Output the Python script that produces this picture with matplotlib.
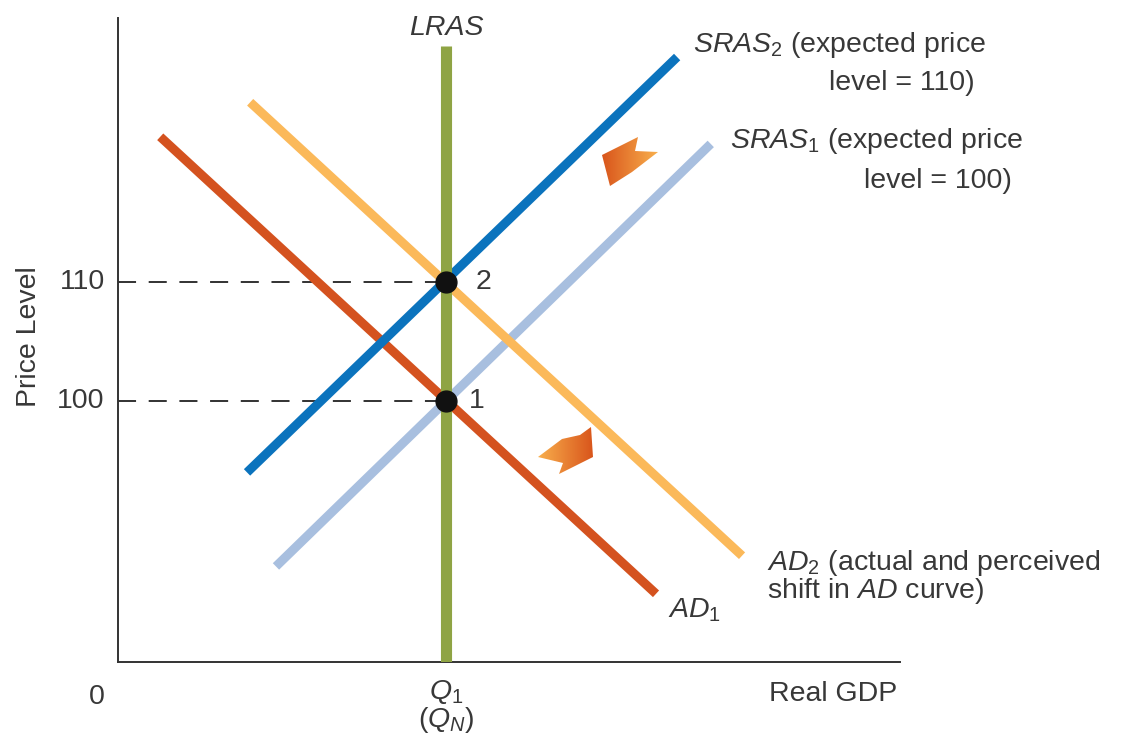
import numpy as np
import matplotlib
matplotlib.use("Agg")
import matplotlib.pyplot as plt
from matplotlib.patches import Polygon
from matplotlib.colors import LinearSegmentedColormap

plt.rcParams['font.family'] = ['Liberation Sans', 'DejaVu Sans']
plt.rcParams['mathtext.fontset'] = 'custom'
plt.rcParams['mathtext.rm'] = 'Liberation Sans'
plt.rcParams['mathtext.it'] = 'Liberation Sans:italic'

# ---- data (GDP units 0-100, price level units) ----
q1 = 42.0
price_levels = [100, 110]
price_tick_labels = ["100", "110"]
lras_top = 129.8

sras2_x = [16.5, 71.5]
sras2_y = [94.0, 128.9]
sras1_x = [20.2, 75.8]
sras1_y = [86.1, 121.6]
ad1_x = [5.4, 68.8]
ad1_y = [122.2, 83.8]
ad2_x = [16.9, 79.8]
ad2_y = [125.1, 87.0]

W, H = 1125, 737
fig = plt.figure(figsize=(W / 100, H / 100), dpi=100)
ax = fig.add_axes([118 / W, 1 - 662 / H, 782 / W, 644 / H])
ax.set_xlim(0, 100)
ax.set_ylim(78.07, 132.18)
for s in ['top', 'right']:
    ax.spines[s].set_visible(False)
for s in ['left', 'bottom']:
    ax.spines[s].set_color('#333333')
    ax.spines[s].set_linewidth(1.4)
ax.set_xticks([])
ax.set_yticks([])

c_lras = '#8fa444'
c_sras2 = '#0b73bd'
c_sras1 = '#a8bfdf'
c_ad1 = '#d4521f'
c_ad2 = '#fbb95a'

lw = 6.5
ax.plot(sras1_x, sras1_y, color=c_sras1, lw=lw, solid_capstyle='butt', zorder=2)
ax.plot(ad2_x, ad2_y, color=c_ad2, lw=lw, solid_capstyle='butt', zorder=2)
ax.plot(ad1_x, ad1_y, color=c_ad1, lw=lw, solid_capstyle='butt', zorder=2)
ax.plot(sras2_x, sras2_y, color=c_sras2, lw=lw, solid_capstyle='butt', zorder=2)
ax.plot([q1, q1], [78.07, lras_top], color=c_lras, lw=8, solid_capstyle='butt', zorder=3)

for p in price_levels:
    ax.plot([0, q1], [p, p], color='#222222', lw=1.3, dashes=(10, 7), zorder=1)
ax.plot([q1, q1], price_levels, 'o', color='#111111', ms=15, zorder=5)

fs = 20.5
tc = '#383838'

def F(px, py):
    return px / W, 1 - py / H

fig.text(*F(446, 35), 'LRAS', fontsize=fs, style='italic', ha='center', va='baseline', color=tc)
fig.text(*F(693, 52), r'$\mathit{SRAS}_2$ (expected price', fontsize=fs, ha='left', va='baseline', color=tc)
fig.text(*F(975, 90), 'level = 110)', fontsize=fs, ha='right', va='baseline', color=tc)
fig.text(*F(730, 148), r'$\mathit{SRAS}_1$ (expected price', fontsize=fs, ha='left', va='baseline', color=tc)
fig.text(*F(1012, 188), 'level = 100)', fontsize=fs, ha='right', va='baseline', color=tc)
fig.text(*F(767, 570), r'$\mathit{AD}_2$ (actual and perceived', fontsize=fs, ha='left', va='baseline', color=tc)
fig.text(*F(767, 598), r'shift in $\mathit{AD}$ curve)', fontsize=fs, ha='left', va='baseline', color=tc)
fig.text(*F(668, 617), r'$\mathit{AD}_1$', fontsize=fs, ha='left', va='baseline', color=tc)
fig.text(*F(897, 701), 'Real GDP', fontsize=fs, ha='right', va='baseline', color=tc)
fig.text(*F(446, 699), r'$\mathit{Q}_1$', fontsize=fs, ha='center', va='baseline', color=tc)
fig.text(*F(446, 727), r'($\mathit{Q}_N$)', fontsize=fs, ha='center', va='baseline', color=tc)
fig.text(*F(97, 697), '0', fontsize=fs, ha='center', va='center', color=tc)
for p, lab in zip(price_levels, price_tick_labels):
    ax.text(-1.7, p, lab, fontsize=fs, ha='right', va='center', color=tc)
fig.text(*F(29, 337), 'Price Level', fontsize=fs, rotation=90, ha='center', va='center', color=tc)
ax.text(q1 + 4.7, 110, '2', fontsize=fs, ha='center', va='center', color=tc)
ax.text(q1 + 3.9, 100, '1', fontsize=fs, ha='center', va='center', color=tc)

# ---- gradient shift arrows (overlay in pixel space) ----
ov = fig.add_axes([0, 0, 1, 1], zorder=10)
ov.set_xlim(0, W)
ov.set_ylim(H, 0)
ov.axis('off')
ov.patch.set_alpha(0)

cmap = LinearSegmentedColormap.from_list('arr', ['#d9561c', '#f8ae4c'])
arrow_up = [(602, 155), (638, 137), (635, 151), (658, 152), (632, 172), (610, 186)]
arrow_dn = [(591, 427), (593, 457), (559, 474), (563, 463), (538, 457), (562, 439), (580, 435)]

def grad_poly(pts, reverse):
    poly = Polygon(pts, closed=True, facecolor='none', edgecolor='none')
    ov.add_patch(poly)
    xs = [p[0] for p in pts]
    ys = [p[1] for p in pts]
    g = np.linspace(0, 1, 64)[None, :]
    if reverse:
        g = g[:, ::-1]
    im = ov.imshow(g, cmap=cmap, extent=(min(xs), max(xs), max(ys), min(ys)),
                   aspect='auto', interpolation='bilinear')
    im.set_clip_path(poly)

grad_poly(arrow_up, False)
grad_poly(arrow_dn, True)
ov.set_xlim(0, W)
ov.set_ylim(H, 0)

fig.savefig('out.png', dpi=100)
